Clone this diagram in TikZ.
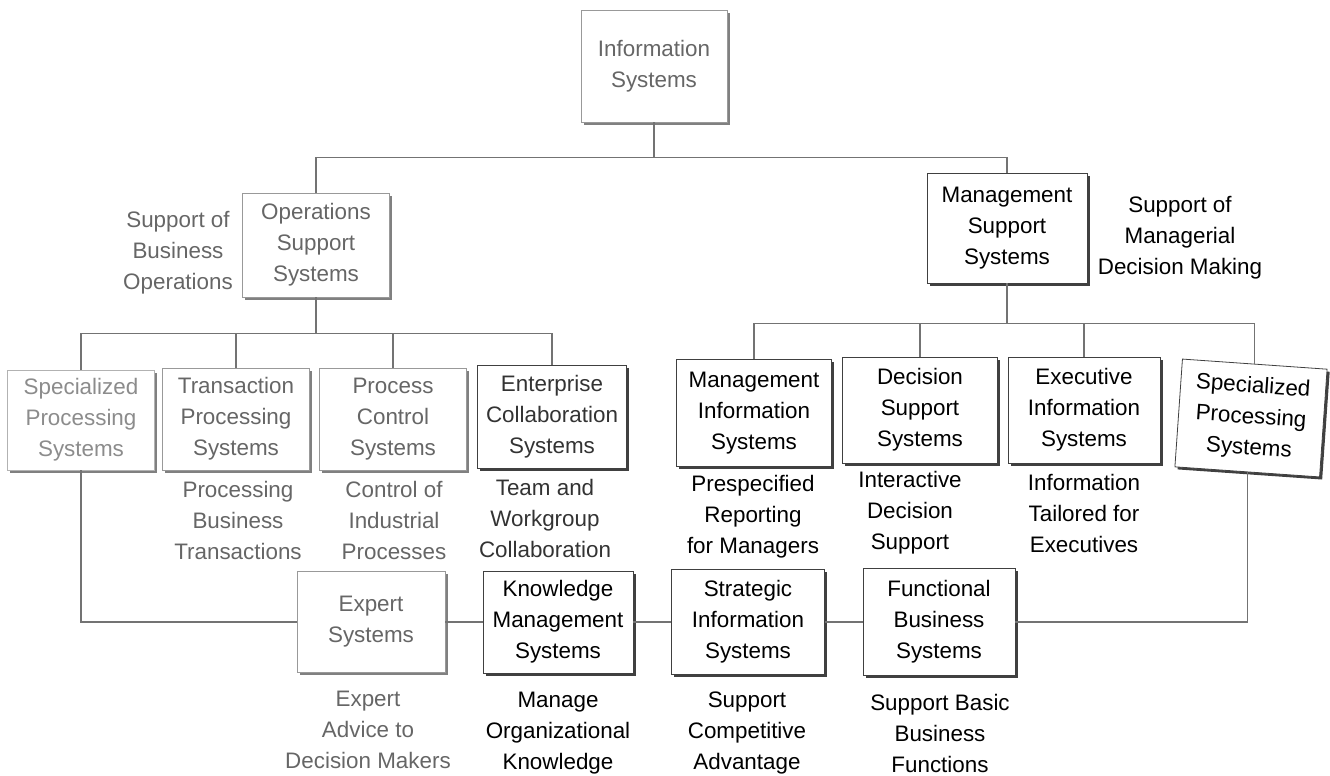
\documentclass[tikz,border=0pt]{standalone}
\usepackage{fontspec}
\setmainfont{Liberation Sans}
\usetikzlibrary{shadows}

\begin{document}
\begin{tikzpicture}[x=0.5pt, y=-0.5pt,
  every node/.style={font=\fontsize{11.2}{15.5}\selectfont, align=center},
  sysbox/.style={draw=black!75, fill=white, inner sep=0pt, minimum width=75pt, minimum height=52pt,
    drop shadow={shadow xshift=1.3pt, shadow yshift=-1.3pt, fill=black!75, opacity=1}},
  fadedbox/.style={draw=black!40, text=black!60,
    drop shadow={shadow xshift=1.3pt, shadow yshift=-1.3pt, fill=black!50, opacity=1}},
  fadedtext/.style={text=black!60},
  link/.style={draw=black!55, line width=0.6pt}]
% Frame of the page
\useasboundingbox (0,0) rectangle (1330,776);

% Top levels
\node[sysbox, fadedbox, minimum width=73pt, minimum height=56pt] (info) at (654,66) {Information\\Systems};
\node[sysbox, fadedbox, minimum width=73.5pt] (oss) at (316,245) {Operations\\Support\\Systems};
\node[sysbox, minimum width=80pt, minimum height=55pt] (mss) at (1007,228) {Management\\Support\\Systems};
\node[fadedtext] (opslbl) at (178,253) {Support of\\Business\\Operations};
\node (mgrlbl) at (1180,238) {Support of\\Managerial\\Decision Making};

% Operations row
\node[sysbox, fadedbox, draw=black!30, text=black!45, minimum width=73.5pt, minimum height=50pt] (spsl) at (81,420) {Specialized\\Processing\\Systems};
\node[sysbox, fadedbox, minimum width=73.5pt, minimum height=51pt] (tps) at (236,419) {Transaction\\Processing\\Systems};
\node[sysbox, fadedbox, minimum width=73.5pt, minimum height=51pt] (pcs) at (393,419) {Process\\Control\\Systems};
\node[sysbox, text=black!80, minimum width=74.5pt, minimum height=51.5pt] (ecs) at (552,417) {Enterprise\\Collaboration\\Systems};
\node[fadedtext] (tpslbl) at (238,520) {Processing\\Business\\Transactions};
\node[fadedtext] (pcslbl) at (394,520) {Control of\\Industrial\\Processes};
\node[text=black!80] (ecslbl) at (545,518) {Team and\\Workgroup\\Collaboration};

% Management row
\node[sysbox, minimum width=77.5pt, minimum height=53.5pt] (mis) at (754,413) {Management\\Information\\Systems};
\node[sysbox, minimum width=77.5pt, minimum height=53pt] (dss) at (920,410) {Decision\\Support\\Systems};
\node[sysbox, minimum width=76pt, minimum height=53pt] (eis) at (1084,410) {Executive\\Information\\Systems};
\node[sysbox, rotate=-4, minimum width=72.5pt, minimum height=54pt] (spsr) at (1251,418) {Specialized\\Processing\\Systems};
\node (mislbl) at (753,517) {Prespecified\\Reporting\\for Managers};
\node (dsslbl) at (910,513) {Interactive\\Decision\\Support};
\node (eislbl) at (1084,513) {Information\\Tailored for\\Executives};

% Bottom row
\node[sysbox, fadedbox, minimum width=74pt, minimum height=50.5pt] (expert) at (371,622) {Expert\\Systems};
\node[sysbox, minimum width=75pt, minimum height=51pt] (kms) at (558,622) {Knowledge\\Management\\Systems};
\node[sysbox, minimum width=76.5pt, minimum height=52.5pt] (sis) at (748,622) {Strategic\\Information\\Systems};
\node[sysbox, minimum width=76pt, minimum height=53.5pt] (fbs) at (939,622) {Functional\\Business\\Systems};
\node[fadedtext] (expertlbl) at (368,730) {Expert\\Advice to\\Decision Makers};
\node (kmslbl) at (558,733) {Manage\\Organizational\\Knowledge};
\node (sislbl) at (747,733) {Support\\Competitive\\Advantage};
\node (fbslbl) at (940,733) {Support Basic\\Business\\Functions};

% Connectors
\draw[link] (info.south) -- ++(0,35) coordinate (topbar);
\draw[link] (oss.north) |- (topbar) -| (mss.north);
\draw[link] (oss.south) -- ++(0,36) coordinate (opsbar);
\draw[link] (spsl.north) |- (opsbar) -| (ecs.north);
\foreach \n in {tps,pcs}
  \draw[link] (\n.north) -- (\n.north |- opsbar);
\draw[link] (mss.south) -- ++(0,40) coordinate (mgtbar);
\draw[link] (mis.north) |- (mgtbar) -| (spsr.north);
\foreach \n in {dss,eis}
  \draw[link] (\n.north) -- (\n.north |- mgtbar);
\draw[link] (spsl.south) |- (expert.west);
\draw[link] (expert.east) -- (kms.west);
\draw[link] (kms.east) -- (sis.west);
\draw[link] (sis.east) -- (fbs.west);
\draw[link] (fbs.east) -| (spsr.south);
\end{tikzpicture}
\end{document}
